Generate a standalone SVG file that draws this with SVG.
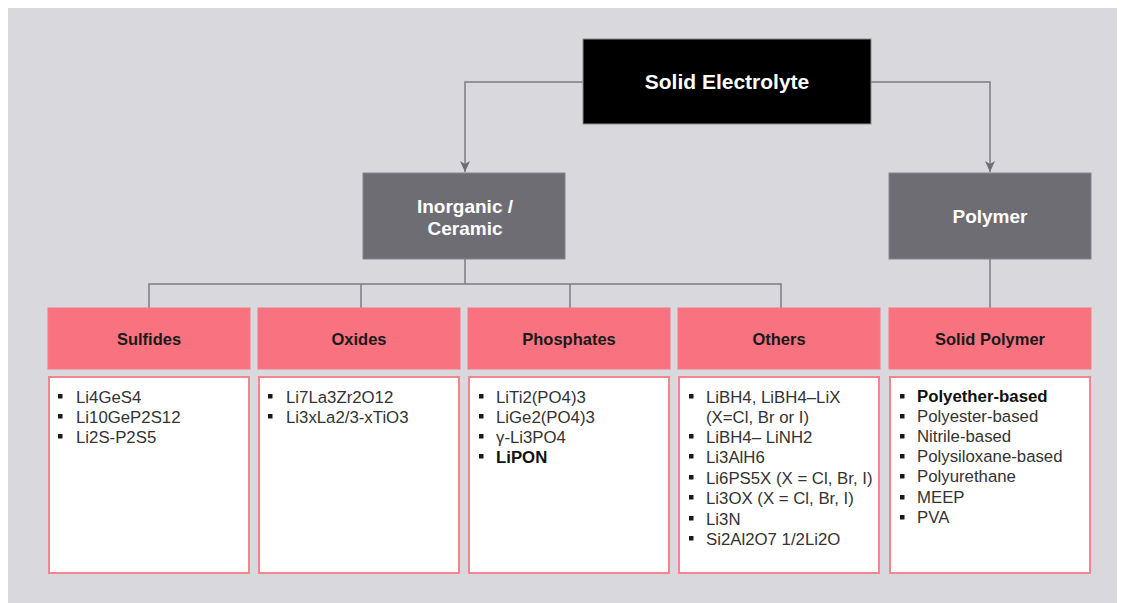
<svg xmlns="http://www.w3.org/2000/svg" width="1128" height="603" viewBox="0 0 1128 603">
  <style>
    .bg { fill: #d9d8dd; }
    .root { fill: #000000; stroke: #8a8a90; stroke-width: 1; }
    .cat { fill: #6e6d74; stroke: #85848b; stroke-width: 1; }
    .head { fill: #f8727f; stroke: #f47a86; stroke-width: 1; }
    .body { fill: #ffffff; stroke: #f4848f; stroke-width: 2; }
    .wire { fill: none; stroke: #7c7b82; stroke-width: 1.5; }
    .t-root { font-family: "Liberation Sans", Arial, sans-serif; font-weight: bold; font-size: 21px; fill: #ffffff; text-anchor: middle; }
    .t-cat { font-family: "Liberation Sans", Arial, sans-serif; font-weight: bold; font-size: 19px; fill: #ffffff; text-anchor: middle; }
    .t-head { font-family: "Liberation Sans", Arial, sans-serif; font-weight: bold; font-size: 16.5px; fill: #1a1a1a; text-anchor: middle; }
    .t-item { font-family: "Liberation Sans", Arial, sans-serif; font-size: 16.8px; fill: #333333; }
    .t-bold { font-weight: bold; fill: #111111; }
    .dot { fill: #1a1a1a; }
  </style>
  <defs>
    <marker id="arrow" viewBox="0 0 12 12" refX="11" refY="6" markerWidth="12" markerHeight="12" markerUnits="userSpaceOnUse" orient="auto">
      <path d="M0,1 L11,6 L0,11 L3,6 Z" fill="#6e6d74"/>
    </marker>
    <rect id="bullet" width="4.5" height="4.5"/>
  </defs>

  <rect class="bg" x="8" y="8" width="1109" height="595"/>

  <!-- connectors -->
  <g id="connectors">
    <path class="wire" d="M583,82 H465 V172" marker-end="url(#arrow)"/>
    <path class="wire" d="M871,82 H990 V172" marker-end="url(#arrow)"/>
    <path class="wire" d="M465,259 V284"/>
    <path class="wire" d="M149,308 V284 H781 V308"/>
    <path class="wire" d="M361,284 V308"/>
    <path class="wire" d="M570,284 V308"/>
    <path class="wire" d="M990,259 V308"/>
  </g>

  <!-- top level -->
  <g id="solid-electrolyte">
    <rect class="root" x="583" y="39" width="288" height="85"/>
    <text class="t-root" x="727" y="89">Solid Electrolyte</text>
  </g>

  <g id="inorganic-ceramic">
    <rect class="cat" x="363" y="173" width="202" height="86"/>
    <text class="t-cat" x="465" y="213">Inorganic /</text>
    <text class="t-cat" x="465" y="235">Ceramic</text>
  </g>

  <g id="polymer">
    <rect class="cat" x="889" y="173" width="202" height="86"/>
    <text class="t-cat" x="990" y="223">Polymer</text>
  </g>

  <!-- Sulfides -->
  <g id="sulfides">
    <rect class="head" x="48" y="308" width="202" height="61"/>
    <text class="t-head" x="149" y="345">Sulfides</text>
    <rect class="body" x="49" y="377" width="200" height="196"/>
    <use href="#bullet" class="dot" x="58" y="394"/>
    <use href="#bullet" class="dot" x="58" y="414"/>
    <use href="#bullet" class="dot" x="58" y="434"/>
    <text class="t-item" x="76" y="403">Li4GeS4</text>
    <text class="t-item" x="76" y="423">Li10GeP2S12</text>
    <text class="t-item" x="76" y="443">Li2S-P2S5</text>
  </g>

  <!-- Oxides -->
  <g id="oxides">
    <rect class="head" x="258" y="308" width="202" height="61"/>
    <text class="t-head" x="359" y="345">Oxides</text>
    <rect class="body" x="259" y="377" width="200" height="196"/>
    <use href="#bullet" class="dot" x="268" y="394"/>
    <use href="#bullet" class="dot" x="268" y="414"/>
    <text class="t-item" x="286" y="403">Li7La3Zr2O12</text>
    <text class="t-item" x="286" y="423">Li3xLa2/3-xTiO3</text>
  </g>

  <!-- Phosphates -->
  <g id="phosphates">
    <rect class="head" x="468" y="308" width="202" height="61"/>
    <text class="t-head" x="569" y="345">Phosphates</text>
    <rect class="body" x="469" y="377" width="200" height="196"/>
    <use href="#bullet" class="dot" x="479" y="394"/>
    <use href="#bullet" class="dot" x="479" y="414"/>
    <use href="#bullet" class="dot" x="479" y="434"/>
    <use href="#bullet" class="dot" x="479" y="454"/>
    <text class="t-item" x="496" y="403">LiTi2(PO4)3</text>
    <text class="t-item" x="496" y="423">LiGe2(PO4)3</text>
    <text class="t-item" x="496" y="443">γ-Li3PO4</text>
    <text class="t-item t-bold" x="496" y="463">LiPON</text>
  </g>

  <!-- Others -->
  <g id="others">
    <rect class="head" x="678" y="308" width="202" height="61"/>
    <text class="t-head" x="779" y="345">Others</text>
    <rect class="body" x="679" y="377" width="200" height="196"/>
    <use href="#bullet" class="dot" x="689" y="394"/>
    <use href="#bullet" class="dot" x="689" y="434"/>
    <use href="#bullet" class="dot" x="689" y="454"/>
    <use href="#bullet" class="dot" x="689" y="475"/>
    <use href="#bullet" class="dot" x="689" y="495"/>
    <use href="#bullet" class="dot" x="689" y="516"/>
    <use href="#bullet" class="dot" x="689" y="536"/>
    <text class="t-item" x="706" y="403">LiBH4, LiBH4–LiX</text>
    <text class="t-item" x="706" y="423">(X=Cl, Br or I)</text>
    <text class="t-item" x="706" y="443">LiBH4– LiNH2</text>
    <text class="t-item" x="706" y="463">Li3AlH6</text>
    <text class="t-item" x="706" y="484">Li6PS5X (X = Cl, Br, I)</text>
    <text class="t-item" x="706" y="504">Li3OX (X = Cl, Br, I)</text>
    <text class="t-item" x="706" y="525">Li3N</text>
    <text class="t-item" x="706" y="545">Si2Al2O7 1/2Li2O</text>
  </g>

  <!-- Solid Polymer -->
  <g id="solid-polymer">
    <rect class="head" x="889" y="308" width="202" height="61"/>
    <text class="t-head" x="990" y="345">Solid Polymer</text>
    <rect class="body" x="890" y="377" width="200" height="196"/>
    <use href="#bullet" class="dot" x="900" y="394"/>
    <use href="#bullet" class="dot" x="900" y="414"/>
    <use href="#bullet" class="dot" x="900" y="434"/>
    <use href="#bullet" class="dot" x="900" y="454"/>
    <use href="#bullet" class="dot" x="900" y="474"/>
    <use href="#bullet" class="dot" x="900" y="495"/>
    <use href="#bullet" class="dot" x="900" y="515"/>
    <text class="t-item t-bold" x="917" y="402">Polyether-based</text>
    <text class="t-item" x="917" y="422">Polyester-based</text>
    <text class="t-item" x="917" y="442">Nitrile-based</text>
    <text class="t-item" x="917" y="462">Polysiloxane-based</text>
    <text class="t-item" x="917" y="482">Polyurethane</text>
    <text class="t-item" x="917" y="503">MEEP</text>
    <text class="t-item" x="917" y="523">PVA</text>
  </g>
</svg>
